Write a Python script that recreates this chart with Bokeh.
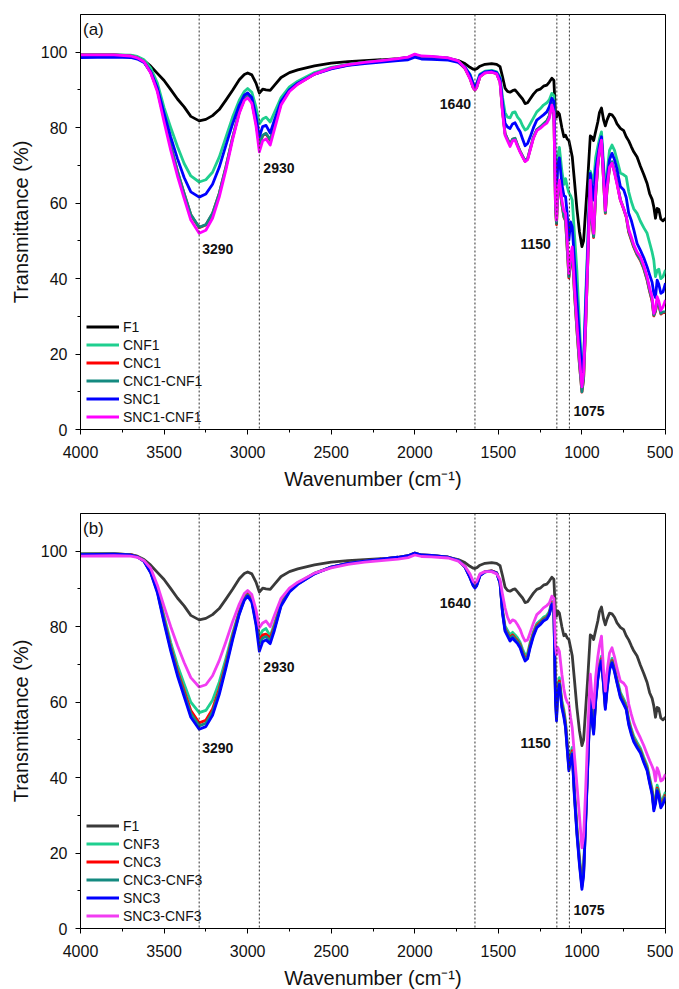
import sys
from bokeh.plotting import figure
from bokeh.models import Range1d, FixedTicker, Span, Label, Legend, LegendItem, ColumnDataSource
from bokeh.layouts import column
from bokeh.embed import file_html
from bokeh.resources import INLINE

# ---------------- data ----------------
WAVENUMBER = ([4000, 3800, 3700, 3660, 3620, 3580, 3540, 3500, 3460, 3420, 3380, 3340, 3290, 3250, 3210, 3170, 3130, 3090, 3050, 3020, 3000, 2975, 2950, 2930, 2910, 2890, 2865, 2840, 2800, 2750, 2700, 2600, 2500, 2400, 2300, 2200, 2100, 2040, 2000, 1960, 1900]
              + [1800, 1740, 1700, 1670, 1650, 1640, 1630, 1610, 1580, 1540, 1510, 1490, 1475, 1460, 1445, 1430, 1415, 1400, 1385, 1370, 1355, 1340, 1325, 1310, 1290, 1270, 1250, 1230, 1210, 1195, 1180]
              + [1168, 1158, 1152, 1145, 1135, 1120, 1108, 1098, 1088, 1078, 1068, 1058, 1045, 1030, 1015, 1000, 990, 978, 965, 950, 940, 930, 918, 905, 895, 883, 870, 860, 850, 835, 820, 805, 790, 770, 750, 735, 720, 705, 690, 670, 650, 630, 610, 595, 580, 570, 560, 550, 540, 528, 515, 500])

F1 = ([99.3, 99.3, 99.1, 98.7, 97.8, 96.3, 94.4, 92.5, 90.1, 87.6, 85.5, 83.0, 81.8, 82.2, 83.2, 84.8, 87.3, 89.9, 92.7, 94.1, 94.5, 94.0, 91.8, 89.2, 90.2, 90.0, 89.9, 91.2, 93.3, 94.6, 95.3, 96.4, 97.1, 97.5, 97.8, 98.0, 98.3, 98.6, 99.3, 98.8, 98.7]
      + [98.4, 97.8, 97.0, 96.0, 95.5, 95.4, 95.6, 96.3, 96.8, 97.0, 96.8, 96.2, 93.5, 90.5, 89.6, 89.4, 89.8, 90.0, 89.2, 88.4, 87.6, 86.4, 86.6, 87.6, 88.9, 89.9, 90.2, 91.0, 91.3, 92.1, 93.1]
      + [92.6, 83.5, 82.8, 84.2, 83.6, 80.0, 77.6, 78.0, 77.0, 76.6, 74.5, 72.3, 66.0, 58.5, 52.5, 48.5, 50.0, 58.0, 66.5, 77.8, 77.5, 76.6, 79.0, 81.5, 84.0, 85.2, 82.0, 80.5, 82.0, 83.6, 83.4, 82.5, 81.0, 79.8, 79.2, 77.6, 76.5, 75.0, 73.6, 72.2, 69.8, 67.6, 65.2, 62.5, 61.0, 59.0, 56.0, 58.6, 58.4, 55.8, 55.3, 56.0])

CNF1 = ([99.3, 99.3, 99.2, 98.9, 98.0, 95.8, 91.8, 85.3, 80.0, 75.0, 70.5, 67.2, 65.6, 66.2, 68.2, 72.2, 77.5, 82.8, 87.3, 89.6, 90.4, 89.4, 85.5, 81.0, 82.3, 82.8, 81.5, 84.0, 88.0, 90.8, 92.3, 94.6, 96.0, 96.8, 97.3, 97.7, 98.1, 98.5, 99.2, 98.8, 98.6]
        + [98.3, 97.6, 96.0, 94.2, 91.8, 91.2, 91.8, 94.2, 95.0, 95.2, 94.8, 93.5, 88.0, 84.0, 82.8, 82.6, 84.0, 84.2, 82.8, 82.0, 80.5, 79.4, 79.8, 81.0, 82.6, 84.2, 85.0, 86.0, 86.6, 87.4, 89.1]
        + [88.5, 66.0, 63.5, 72.0, 74.8, 68.5, 65.0, 66.5, 64.4, 62.8, 62.0, 60.8, 52.0, 42.0, 28.0, 14.5, 17.0, 35.0, 50.0, 68.5, 67.0, 65.3, 72.0, 75.0, 77.0, 78.9, 70.0, 62.0, 68.0, 74.0, 75.4, 74.0, 71.5, 68.0, 67.5, 67.0, 63.0, 60.5, 58.5, 57.3, 55.2, 53.5, 52.0, 49.5, 47.0, 44.9, 40.5, 42.2, 42.5, 40.0, 40.5, 42.3])

CNC1 = ([99.2, 99.2, 99.0, 98.5, 97.5, 94.7, 90.0, 82.4, 75.1, 68.4, 62.5, 56.9, 53.5, 54.2, 57.2, 62.5, 69.5, 77.3, 84.1, 87.5, 88.3, 86.9, 81.4, 75.3, 77.9, 78.4, 76.6, 80.4, 86.4, 89.8, 91.6, 94.2, 95.7, 96.6, 97.2, 97.6, 98.1, 98.5, 99.2, 98.8, 98.7]
        + [98.3, 97.5, 95.7, 93.1, 90.5, 90.0, 90.6, 93.5, 94.5, 94.7, 94.3, 92.1, 84.4, 78.4, 76.9, 75.5, 76.9, 77.1, 75.3, 73.7, 72.4, 71.1, 71.7, 74.2, 77.4, 79.4, 80.1, 80.9, 81.7, 83.1, 86.4]
        + [84.4, 58.3, 54.3, 62.3, 65.3, 59.6, 56.3, 55.3, 47.8, 40.2, 44.3, 47.3, 36.3, 26.3, 17.3, 9.9, 13.3, 26.8, 44.3, 65.3, 54.8, 50.9, 61.8, 69.8, 73.8, 76.8, 65.3, 57.3, 63.3, 69.3, 70.8, 68.3, 65.3, 60.8, 58.3, 56.3, 52.3, 50.3, 48.3, 46.3, 44.8, 42.6, 39.6, 36.6, 34.0, 30.1, 31.3, 33.8, 33.0, 30.6, 31.0, 31.0])

CNC1_CNF1 = ([99.2, 99.2, 99.0, 98.5, 97.5, 94.7, 90.0, 82.5, 75.2, 68.5, 62.6, 57.0, 53.6, 54.3, 57.3, 62.6, 69.6, 77.4, 84.2, 87.6, 88.4, 87.0, 81.5, 75.5, 78.0, 78.5, 76.8, 80.5, 86.5, 89.9, 91.7, 94.3, 95.8, 96.7, 97.3, 97.7, 98.2, 98.6, 99.3, 98.9, 98.8]
             + [98.4, 97.6, 95.8, 93.2, 90.6, 90.1, 90.7, 93.6, 94.6, 94.8, 94.4, 92.2, 84.5, 78.5, 77.0, 75.6, 77.0, 77.2, 75.4, 73.8, 72.5, 71.2, 71.8, 74.3, 77.5, 79.5, 80.2, 81.0, 81.8, 83.2, 86.5]
             + [84.5, 58.5, 54.6, 62.5, 65.5, 59.8, 56.5, 55.5, 48.0, 40.5, 44.5, 47.5, 36.5, 26.5, 17.5, 10.0, 13.5, 27.0, 44.5, 65.5, 55.0, 51.1, 62.0, 70.0, 74.0, 77.0, 65.5, 57.5, 63.5, 69.5, 71.0, 68.5, 65.5, 61.0, 58.5, 56.5, 52.5, 50.5, 48.5, 46.5, 45.0, 42.8, 39.8, 36.8, 34.2, 30.3, 31.5, 34.0, 33.2, 30.8, 31.2, 31.2])

SNC1 = ([98.6, 98.7, 98.6, 98.2, 97.3, 94.8, 90.5, 83.8, 77.5, 71.8, 66.8, 63.0, 61.6, 62.4, 65.0, 69.5, 75.3, 81.0, 86.0, 88.6, 89.2, 88.0, 83.0, 77.6, 80.3, 80.6, 78.6, 82.0, 87.0, 90.0, 91.8, 94.2, 95.6, 96.5, 97.0, 97.4, 97.8, 98.0, 98.7, 98.2, 98.1]
        + [97.9, 97.3, 96.0, 94.0, 91.5, 90.9, 91.5, 94.0, 94.8, 95.0, 94.6, 93.0, 86.5, 81.2, 80.2, 79.8, 81.0, 81.3, 80.0, 78.9, 77.0, 75.2, 75.8, 77.5, 80.0, 82.0, 82.7, 83.4, 84.2, 85.6, 87.8]
        + [87.0, 66.0, 62.0, 70.0, 72.0, 65.0, 62.0, 61.7, 57.0, 50.2, 55.0, 53.7, 45.0, 34.3, 24.0, 14.9, 18.0, 32.5, 48.0, 67.9, 64.0, 60.8, 69.0, 72.5, 75.5, 77.6, 68.0, 59.9, 66.0, 71.5, 73.2, 71.5, 69.0, 64.4, 63.5, 61.5, 57.3, 55.5, 53.0, 49.3, 47.5, 45.5, 43.1, 41.0, 39.0, 36.1, 35.0, 39.6, 38.5, 36.1, 36.5, 38.8])

SNC1_CNF1 = ([99.3, 99.3, 99.0, 98.5, 97.5, 94.5, 89.5, 81.5, 74.0, 67.2, 61.3, 55.5, 52.0, 52.8, 56.0, 61.6, 68.8, 76.8, 83.8, 87.2, 87.9, 86.5, 80.5, 73.6, 76.5, 77.0, 75.4, 79.5, 86.0, 89.6, 91.5, 94.2, 95.8, 96.7, 97.3, 97.8, 98.3, 98.7, 99.5, 99.0, 98.9]
             + [98.5, 97.7, 95.8, 93.0, 90.6, 90.0, 90.6, 93.5, 94.5, 94.7, 94.3, 92.0, 84.0, 78.0, 76.5, 75.0, 76.5, 76.7, 75.0, 73.5, 72.2, 71.0, 71.5, 74.0, 77.2, 79.2, 79.8, 80.6, 81.2, 82.5, 86.0]
             + [84.0, 60.0, 55.5, 63.5, 66.1, 60.8, 58.0, 57.3, 50.0, 41.4, 46.0, 48.4, 38.0, 28.1, 19.0, 11.3, 15.0, 28.1, 45.0, 66.1, 56.0, 52.0, 63.0, 70.5, 74.0, 76.7, 66.0, 58.1, 64.0, 69.5, 70.6, 68.0, 65.0, 60.8, 58.5, 56.5, 53.0, 51.1, 49.0, 47.0, 45.8, 43.5, 40.5, 37.5, 35.0, 30.8, 32.0, 35.2, 34.0, 31.6, 32.5, 34.3])

CNF3 = ([99.3, 99.3, 99.1, 98.6, 97.5, 94.8, 90.0, 82.8, 75.8, 69.8, 64.8, 60.0, 57.2, 57.8, 60.5, 65.3, 71.5, 78.2, 84.2, 87.8, 89.0, 87.6, 82.5, 77.5, 79.0, 79.5, 77.5, 80.8, 86.5, 89.8, 91.6, 94.2, 95.8, 96.7, 97.3, 97.8, 98.3, 98.7, 99.4, 98.9, 98.8]
        + [98.4, 97.6, 95.9, 93.3, 91.2, 90.7, 91.2, 93.8, 94.6, 94.8, 94.3, 91.8, 84.5, 80.2, 79.0, 77.8, 78.5, 77.8, 77.0, 75.9, 74.0, 72.6, 73.0, 75.8, 78.8, 80.8, 81.6, 82.5, 83.0, 84.0, 86.8]
        + [85.5, 62.5, 58.0, 64.5, 66.5, 60.5, 58.0, 55.0, 49.5, 44.0, 46.5, 48.0, 37.0, 27.0, 19.0, 12.5, 16.0, 29.5, 45.0, 62.8, 57.0, 53.5, 61.5, 67.3, 70.3, 72.2, 65.5, 59.5, 64.5, 69.8, 71.6, 69.3, 66.3, 62.6, 60.8, 59.4, 55.5, 53.0, 51.0, 49.3, 47.8, 45.4, 43.2, 40.0, 37.0, 33.0, 34.5, 38.0, 36.6, 33.6, 34.5, 36.2])

CNC3 = ([99.2, 99.3, 99.1, 98.6, 97.4, 94.5, 89.5, 81.9, 74.6, 68.3, 63.0, 57.8, 54.5, 55.2, 58.2, 63.5, 70.2, 77.4, 83.8, 87.4, 88.6, 87.0, 81.5, 76.5, 77.8, 78.0, 77.0, 80.0, 86.0, 89.5, 91.4, 94.1, 95.8, 96.8, 97.4, 97.9, 98.4, 98.8, 99.5, 99.0, 98.9]
        + [98.4, 97.6, 95.9, 93.2, 91.0, 90.5, 91.0, 93.7, 94.6, 94.8, 94.3, 91.7, 84.0, 79.5, 78.3, 77.0, 77.8, 77.0, 76.3, 75.2, 73.2, 71.8, 72.2, 75.1, 78.2, 80.3, 81.1, 82.0, 82.5, 83.6, 86.4]
        + [85.0, 61.2, 56.5, 63.2, 65.6, 59.5, 57.0, 54.1, 48.5, 42.9, 45.5, 47.1, 36.0, 26.0, 18.0, 11.5, 15.0, 28.5, 44.0, 62.0, 56.0, 52.5, 60.8, 66.6, 69.6, 71.5, 64.8, 58.8, 63.8, 69.2, 71.0, 68.6, 65.6, 61.9, 60.1, 58.7, 54.8, 52.3, 50.2, 48.6, 47.2, 44.7, 42.5, 39.2, 36.2, 32.1, 33.8, 37.2, 35.8, 32.8, 33.7, 35.5])

CNC3_CNF3 = ([99.2, 99.3, 99.0, 98.5, 97.4, 94.4, 89.3, 81.5, 74.1, 67.7, 62.3, 57.0, 53.7, 54.4, 57.4, 62.8, 69.6, 77.0, 83.5, 87.2, 88.4, 86.8, 81.0, 75.5, 77.0, 77.4, 76.3, 79.5, 85.8, 89.4, 91.3, 94.1, 95.8, 96.8, 97.4, 97.9, 98.4, 98.8, 99.5, 99.0, 98.9]
             + [98.4, 97.6, 95.9, 93.1, 90.9, 90.4, 90.9, 93.6, 94.5, 94.7, 94.2, 91.6, 83.8, 79.2, 78.0, 76.7, 77.5, 76.7, 76.0, 74.9, 72.9, 71.4, 71.9, 74.8, 77.9, 80.0, 80.8, 81.8, 82.3, 83.4, 86.2]
             + [84.8, 60.6, 55.8, 62.6, 65.1, 59.0, 56.5, 53.6, 48.0, 42.3, 45.0, 46.6, 35.5, 25.5, 17.5, 11.0, 14.5, 28.0, 43.5, 61.6, 55.5, 52.0, 60.4, 66.3, 69.3, 71.2, 64.4, 58.5, 63.4, 68.9, 70.7, 68.3, 65.3, 61.6, 59.8, 58.4, 54.4, 51.9, 49.9, 48.3, 46.9, 44.4, 42.2, 38.9, 35.9, 31.7, 33.4, 36.9, 35.4, 32.4, 33.4, 35.1])

SNC3 = ([99.1, 99.2, 99.0, 98.5, 97.3, 94.3, 89.0, 81.0, 73.5, 67.0, 61.5, 56.0, 52.8, 53.5, 56.5, 62.0, 69.0, 76.5, 83.3, 87.0, 88.1, 86.5, 80.5, 73.5, 76.0, 76.5, 75.5, 79.0, 85.5, 89.2, 91.2, 94.0, 95.8, 96.8, 97.4, 97.9, 98.4, 98.8, 99.5, 99.0, 98.9]
        + [98.4, 97.6, 95.8, 93.0, 90.8, 90.2, 90.8, 93.5, 94.5, 94.7, 94.2, 91.5, 83.5, 78.8, 77.5, 76.2, 77.0, 76.2, 75.5, 74.4, 72.5, 70.9, 71.5, 74.4, 77.5, 79.7, 80.5, 81.5, 82.0, 83.2, 85.9]
        + [84.5, 60.0, 55.0, 62.0, 64.7, 58.5, 56.0, 53.2, 47.5, 41.8, 44.5, 46.2, 35.0, 25.0, 17.0, 10.4, 14.0, 27.6, 43.0, 61.2, 55.0, 51.5, 60.0, 66.0, 69.0, 70.9, 64.0, 58.1, 63.0, 68.5, 70.4, 68.0, 65.0, 61.2, 59.4, 58.0, 54.0, 51.5, 49.5, 47.9, 46.5, 44.0, 41.8, 38.5, 35.5, 31.2, 33.0, 36.5, 35.0, 32.0, 33.0, 34.7])

SNC3_CNF3 = ([98.7, 98.8, 98.7, 98.4, 97.5, 95.5, 91.0, 85.4, 80.0, 75.0, 70.5, 66.5, 64.0, 64.6, 67.0, 71.0, 76.0, 81.3, 86.0, 88.8, 89.6, 88.5, 84.5, 79.7, 81.0, 81.5, 80.0, 83.0, 87.5, 90.2, 91.8, 94.2, 95.6, 96.5, 97.1, 97.5, 97.9, 98.3, 99.0, 98.6, 98.5]
             + [98.2, 97.4, 96.0, 94.0, 92.0, 91.6, 92.0, 94.0, 94.6, 94.6, 94.0, 92.5, 88.5, 85.0, 82.5, 81.0, 81.8, 81.5, 80.5, 79.3, 77.5, 76.2, 76.5, 78.4, 81.0, 83.2, 84.0, 85.0, 85.6, 86.3, 88.1]
             + [87.5, 75.0, 72.6, 74.5, 73.5, 67.4, 63.5, 61.2, 60.0, 59.4, 56.0, 53.2, 46.0, 38.2, 30.0, 21.4, 24.5, 36.5, 52.0, 67.4, 61.5, 58.5, 66.5, 72.0, 75.0, 77.5, 68.0, 62.9, 68.0, 73.0, 74.4, 72.0, 69.0, 65.6, 65.0, 64.0, 59.5, 56.8, 54.5, 52.3, 50.5, 48.5, 46.2, 44.5, 43.0, 41.8, 39.1, 42.6, 41.5, 39.1, 39.5, 40.9])

PEAKS = [3290, 2930, 1640, 1150, 1075]
X_TICKS = [4000, 3500, 3000, 2500, 2000, 1500, 1000, 500]
X_MINOR = [3750, 3250, 2750, 2250, 1750, 1250, 750]
Y_TICKS = [0, 20, 40, 60, 80, 100]
Y_MINOR = [10, 30, 50, 70, 90]

FONT = "Liberation Sans"


def safe(name, ys):
    n = min(len(WAVENUMBER), len(ys))
    if len(ys) != len(WAVENUMBER):
        print("length mismatch", name, len(ys), len(WAVENUMBER), file=sys.stderr)
    return WAVENUMBER[:n], ys[:n]


def make_panel(tag, series, top, bottom):
    p = figure(frame_width=585, frame_height=415,
               x_range=Range1d(4000, 500), y_range=Range1d(0, 110),
               output_backend="svg", toolbar_location=None,
               min_border_left=80, min_border_right=8,
               min_border_top=top, min_border_bottom=bottom)
    p.xgrid.visible = False
    p.ygrid.visible = False
    p.outline_line_color = "black"
    p.outline_line_width = 1
    p.background_fill_color = "white"
    p.border_fill_color = "white"

    for ax in (p.xaxis[0], p.yaxis[0]):
        ax.axis_line_color = "black"
        ax.major_tick_line_color = "black"
        ax.minor_tick_line_color = "black"
        ax.major_tick_in = 0
        ax.major_tick_out = 5
        ax.minor_tick_in = 0
        ax.minor_tick_out = 3
        ax.major_label_text_font = FONT
        ax.major_label_text_font_size = "16px"
        ax.major_label_text_color = "#111111"
        ax.axis_label_text_font = FONT
        ax.axis_label_text_font_size = "20px"
        ax.axis_label_text_font_style = "normal"
        ax.axis_label_text_color = "#111111"
    p.xaxis.ticker = FixedTicker(ticks=X_TICKS, minor_ticks=X_MINOR)
    p.yaxis.ticker = FixedTicker(ticks=Y_TICKS, minor_ticks=Y_MINOR)
    p.xaxis.axis_label = "Wavenumber (cm⁻¹)"
    p.yaxis.axis_label = "Transmittance (%)"
    p.xaxis.major_label_standoff = 11
    p.yaxis.major_label_standoff = 8
    p.xaxis.axis_label_standoff = 7
    p.yaxis.axis_label_standoff = 6

    for pk in PEAKS:
        p.add_layout(Span(location=pk, dimension="height", line_color="#333333",
                          line_dash="2 2", line_width=1))

    items = []
    for name, ys, color in series:
        xs, yy = safe(name, ys)
        src = ColumnDataSource(dict(x=xs, y=yy))
        r = p.line("x", "y", source=src, line_color=color, line_width=2.8, line_join="round")
        items.append(LegendItem(label=name, renderers=[r]))

    legend = Legend(items=items, location=(6, 4), border_line_color=None,
                    background_fill_alpha=0, label_text_font=FONT,
                    label_text_font_size="14px", label_text_color="#111111",
                    glyph_width=33, glyph_height=17, label_height=17,
                    spacing=1, padding=0, margin=0, label_standoff=4)
    p.add_layout(legend)

    lab_style = dict(text_font=FONT, text_font_size="14px", text_font_style="bold",
                     text_color="#111111", text_baseline="middle")
    p.add_layout(Label(x=PEAKS[0], y=47.8, x_offset=3, text="3290", text_align="left", **lab_style))
    p.add_layout(Label(x=PEAKS[1], y=69.4, x_offset=4, text="2930", text_align="left", **lab_style))
    p.add_layout(Label(x=PEAKS[2], y=86.3, x_offset=-4, text="1640", text_align="right", **lab_style))
    p.add_layout(Label(x=PEAKS[3], y=49.1, x_offset=-6, text="1150", text_align="right", **lab_style))
    p.add_layout(Label(x=PEAKS[4], y=4.9, x_offset=4, text="1075", text_align="left", **lab_style))
    p.add_layout(Label(x=3985, y=106, text=tag, text_font=FONT, text_font_size="17px",
                       text_color="#111111", text_baseline="middle", text_align="left"))
    return p


pa = make_panel("(a)", [("F1", F1, "#000000"), ("CNF1", CNF1, "#1fcf8f"), ("CNC1", CNC1, "#ff0000"),
                        ("CNC1-CNF1", CNC1_CNF1, "#148a80"), ("SNC1", SNC1, "#0000ff"),
                        ("SNC1-CNF1", SNC1_CNF1, "#ff00ff")], 14, 62)
pb = make_panel("(b)", [("F1", F1, "#3a3a3a"), ("CNF3", CNF3, "#1fcf8f"), ("CNC3", CNC3, "#ff0000"),
                        ("CNC3-CNF3", CNC3_CNF3, "#148a80"), ("SNC3", SNC3, "#0000ff"),
                        ("SNC3-CNF3", SNC3_CNF3, "#f23cf2")], 21, 55)

layout = column(pa, pb, spacing=0)
open("out.html", "w").write(file_html(layout, INLINE))
